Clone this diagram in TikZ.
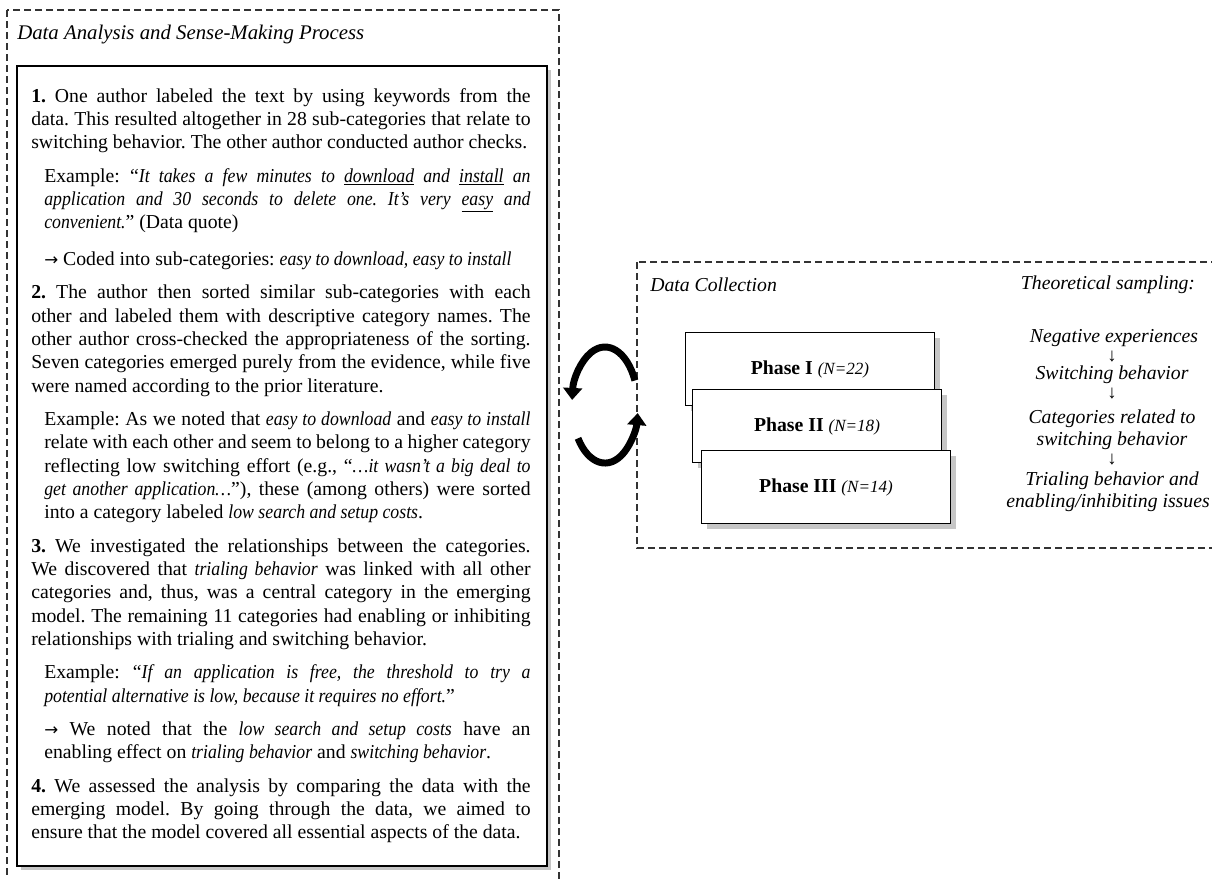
\documentclass[tikz,border=0pt]{standalone}
\usepackage{fontspec}
\setmainfont{Liberation Serif}
\newfontfamily\bodyfont{Liberation Serif}[ItalicFeatures={FakeStretch=0.9}]
\newfontfamily\arrowfont{DejaVu Sans}
\usetikzlibrary{arrows.meta, shadows}

\tikzset{
  frame/.style={draw=black!80, dash pattern=on 5.25pt off 3pt, line width=0.9pt},
  stepsbox/.style={draw, line width=1.1pt, fill=white,
    drop shadow={shadow xshift=3pt, shadow yshift=-3pt, fill=black!50, opacity=.45}},
  phasebox/.style={draw, line width=1pt, fill=white, minimum width=187pt,
    minimum height=54.5pt, inner sep=0pt, font=\fontsize{14.8}{17.5}\selectfont,
    drop shadow={shadow xshift=4pt, shadow yshift=-4pt, fill=black!50, opacity=.45}},
  heading/.style={font=\itshape\fontsize{14.8}{17.5}\selectfont, inner sep=0pt},
  sampling/.style={font=\itshape\fontsize{14.8}{17.5}\selectfont, inner sep=0pt},
  downarrow/.style={font=\fontsize{14}{16}\selectfont, inner sep=0pt},
  cycle/.style={line width=5.2pt, -{Triangle[length=9pt, width=14pt]}},
}

% small italic sample size inside the phase boxes
\newcommand{\samplesize}[1]{{\itshape\fontsize{12.8}{15}\selectfont (N=#1)}}
% indented example paragraph
\newcommand{\examplepar}[1]{{\leftskip=9.75pt #1\par}}
% arrow at the start of a result line
\newcommand{\resultarrow}{{\arrowfont\fontsize{12.5}{15}\selectfont →}}

\begin{document}
\begin{tikzpicture}[x=0.75pt, y=-0.75pt]
  \useasboundingbox (0, 0) rectangle (1212, 878);
  % outer frames
  \draw [frame] (7, 10) rectangle (559, 900);
  \draw [frame] (637, 262) rectangle (1230, 548);
  % frame titles
  \node [heading, anchor=west, font=\itshape\fontsize{15.6}{18}\selectfont] (analysis title) at (17, 35) {Data Analysis and Sense-Making Process};
  \node [heading, anchor=west] (collection title) at (650, 285) {Data Collection};
  % box holding the four analysis steps
  \draw [stepsbox] (17, 66) rectangle (547, 866);
  \node [anchor=north west, inner sep=0pt, text width=374.5pt, align=justify,
         font=\bodyfont\fontsize{14.8}{17.5}\selectfont] (steps) at (31, 88) {%
    \setlength{\parskip}{7.5pt}\setlength{\parindent}{0pt}%
    \frenchspacing\hyphenpenalty=10000\exhyphenpenalty=10000
    \textbf{1.} One author labeled the text by using keywords from the\linebreak
    data. This resulted altogether in 28 sub-categories that relate to\linebreak
    switching behavior. The other author conducted author checks.\par
    \examplepar{Example: “\textit{It takes a few minutes to \underline{download} and \underline{install} an\linebreak
    application and 30 seconds to delete one. It’s very \underline{easy} and\linebreak
    convenient.}” (Data quote)}
    \vspace{2.5pt}
    \examplepar{\resultarrow{} Coded into sub-categories: \textit{easy to download, easy to install}}
    \textbf{2.} The author then sorted similar sub-categories with each\linebreak
    other and labeled them with descriptive category names. The\linebreak
    other author cross-checked the appropriateness of the sorting.\linebreak
    Seven categories emerged purely from the evidence, while five\linebreak
    were named according to the prior literature.\par
    \examplepar{Example: As we noted that \textit{easy to download} and \textit{easy to install}\linebreak
    relate with each other and seem to belong to a higher category\linebreak
    reflecting low switching effort (e.g., “\textit{\ldots it wasn’t a big deal to}\linebreak
    \textit{get another application\ldots}”), these (among others) were sorted\linebreak
    into a category labeled \textit{low search and setup costs}.}
    \textbf{3.} We investigated the relationships between the categories.\linebreak
    We discovered that \textit{trialing behavior} was linked with all other\linebreak
    categories and, thus, was a central category in the emerging\linebreak
    model. The remaining 11 categories had enabling or inhibiting\linebreak
    relationships with trialing and switching behavior.\par
    \examplepar{Example: “\textit{If an application is free, the threshold to try a}\linebreak
    \textit{potential alternative is low, because it requires no effort.}”}
    \examplepar{\resultarrow{} We noted that the \textit{low search and setup costs} have an\linebreak
    enabling effect on \textit{trialing behavior} and \textit{switching behavior}.}
    \textbf{4.} We assessed the analysis by comparing the data with the\linebreak
    emerging model. By going through the data, we aimed to\linebreak
    ensure that the model covered all essential aspects of the data.\par};
  % cycle arrows between the two frames
  \draw [cycle] (634.9, 380.5) arc [start angle=335, end angle=185, x radius=33, y radius=58];
  \draw [cycle] (578, 438.3) arc [start angle=145, end angle=8, x radius=33, y radius=58];
  % stacked phase cards
  \node [phasebox] (phase1) at (810, 369) {\textbf{Phase I} \samplesize{22}};
  \node [phasebox] (phase2) at (817, 426) {\textbf{Phase II} \samplesize{18}};
  \node [phasebox] (phase3) at (826, 487) {\textbf{Phase III} \samplesize{14}};
  % theoretical sampling chain
  \node [sampling] (sampling) at (1108, 285) {Theoretical sampling:};
  \node [sampling] (negative) at (1114, 338) {Negative experiences};
  \node [downarrow] (down1) at (1112, 357) {↓};
  \node [sampling] (switching) at (1112, 375) {Switching behavior};
  \node [downarrow] (down2) at (1112, 394) {↓};
  \node [sampling] (related1) at (1112, 419) {Categories related to};
  \node [sampling] (related2) at (1112, 441) {switching behavior};
  \node [downarrow] (down3) at (1112, 460) {↓};
  \node [sampling] (trialing1) at (1112, 481) {Trialing behavior and};
  \node [sampling] (trialing2) at (1108, 503) {enabling/inhibiting issues};
\end{tikzpicture}
\end{document}
